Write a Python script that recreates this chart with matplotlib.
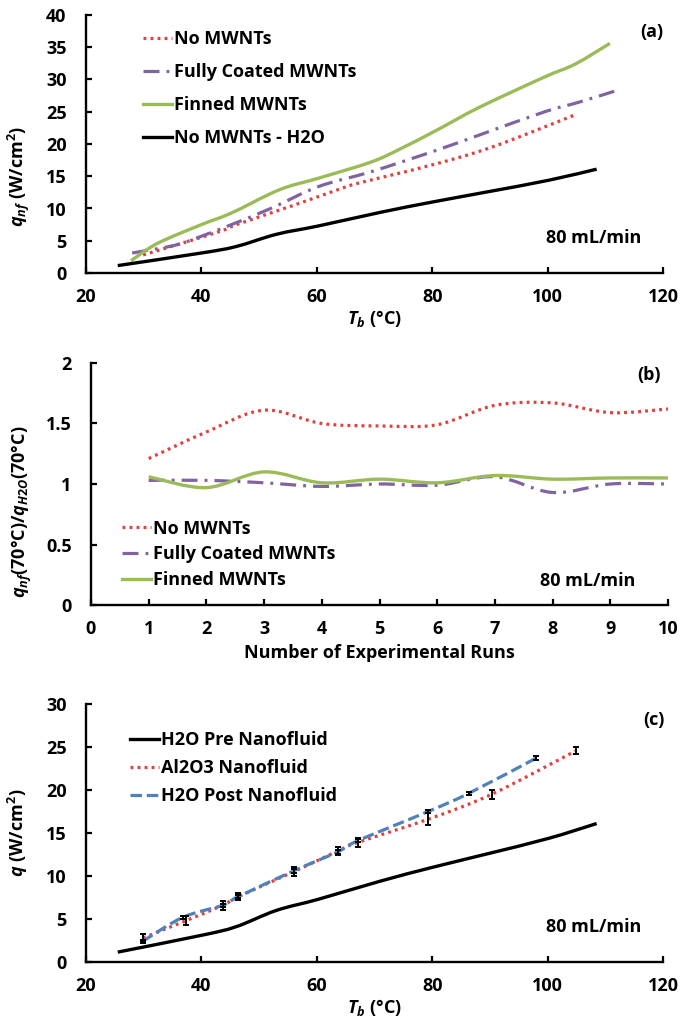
import numpy as np
import matplotlib
matplotlib.use('Agg')
import matplotlib.pyplot as plt
from matplotlib.path import Path
from matplotlib.patches import PathPatch
from matplotlib.lines import Line2D
from matplotlib.ticker import FuncFormatter

FONT = 'Open Sans'
plt.rcParams['font.family'] = [FONT, 'DejaVu Sans']
plt.rcParams['font.weight'] = 'bold'
plt.rcParams['axes.labelweight'] = 'bold'
plt.rcParams['mathtext.fontset'] = 'custom'
plt.rcParams['mathtext.rm'] = FONT + ':bold'
plt.rcParams['mathtext.it'] = FONT + ':italic:bold'
plt.rcParams['mathtext.bf'] = FONT + ':bold'

# ---- data ----
# panel (a)
h2o_x = [25.5, 40, 46, 53, 60.3, 71, 80, 89.7, 100.3, 108.5]
h2o_y = [1.15, 3.1, 4.1, 6.0, 7.3, 9.4, 11.0, 12.6, 14.4, 16.1]
al_x = [29.9, 37.3, 43.7, 46.4, 56.0, 63.6, 67.1, 79.3, 90.3, 105.0]
al_y = [2.8, 4.8, 6.6, 7.6, 10.5, 12.9, 13.9, 16.6, 19.5, 24.6]
al_err = [0.4, 0.5, 0.5, 0.4, 0.5, 0.5, 0.5, 0.7, 0.5, 0.4]
coat_x = [28.0, 35.4, 40, 45.2, 52, 60.3, 69.4, 80, 88.2, 99.5, 105.5, 112.7]
coat_y = [3.1, 4.3, 5.7, 7.5, 10.0, 13.4, 15.7, 18.8, 21.4, 25.0, 26.5, 28.5]
fin_x = [27.8, 32.4, 40, 45.2, 53.5, 60.3, 69.4, 74.6, 80.7, 88.2, 99.5, 104.8, 110.8]
fin_y = [1.9, 4.6, 7.5, 9.3, 12.9, 14.7, 17.2, 19.3, 22.1, 25.7, 30.4, 32.4, 35.6]
# panel (b)
runs = [1, 2, 3, 4, 5, 6, 7, 8, 9, 10]
ratio_nomwnt = [1.21, 1.43, 1.61, 1.50, 1.48, 1.49, 1.65, 1.67, 1.59, 1.62]
ratio_coat = [1.03, 1.03, 1.01, 0.98, 1.00, 0.99, 1.06, 0.93, 1.00, 1.00]
ratio_fin = [1.06, 0.97, 1.10, 1.01, 1.04, 1.01, 1.07, 1.04, 1.05, 1.05]
# panel (c)
post_x = [29.8, 36.8, 43.7, 46.4, 56.0, 63.6, 67.1, 79.3, 86.3, 98.0]
post_y = [2.4, 5.2, 6.6, 7.6, 10.6, 12.8, 14.1, 17.5, 19.6, 23.7]
post_err = [0.2, 0.2, 0.2, 0.2, 0.2, 0.2, 0.2, 0.2, 0.2, 0.2]

RED = '#E0413C'
PURPLE = '#8064A2'
GREEN = '#9BBB59'
BLUE = '#4F81BD'

styles = {
    'red': dict(color=RED, lw=2.3, ls=(0, (0.9, 1.3))),
    'purple': dict(color=PURPLE, lw=2.3, ls=(0, (5.0, 2.2, 0.9, 2.2))),
    'green': dict(color=GREEN, lw=2.4, ls='-'),
    'black': dict(color='black', lw=2.4, ls='-'),
    'blue': dict(color=BLUE, lw=2.3, ls=(0, (3.6, 1.5))),
}


def smooth(ax, x, y, st):
    # excel-like smoothed line through the data points (cubic bezier)
    p = np.column_stack([x, y]).astype(float)
    ext = np.vstack([p[0], p, p[-1]])
    verts = [p[0]]
    codes = [Path.MOVETO]
    for i in range(len(p) - 1):
        a, b, c, d = ext[i], ext[i + 1], ext[i + 2], ext[i + 3]
        verts += [b + (c - a) / 6, c - (d - b) / 6, c]
        codes += [Path.CURVE4] * 3
    ax.add_patch(PathPatch(Path(verts, codes), fill=False, edgecolor=st['color'],
                           lw=st['lw'], linestyle=st['ls'], capstyle='butt'))


def handle(st, label):
    return Line2D([], [], color=st['color'], lw=st['lw'], linestyle=st['ls'], label=label)


def style_axes(ax):
    for s in ['top', 'right']:
        ax.spines[s].set_visible(False)
    for s in ['left', 'bottom']:
        ax.spines[s].set_linewidth(1.7)
    ax.tick_params(direction='in', length=4, width=1.6, labelsize=13)
    ax.tick_params(axis='x', pad=11)
    ax.tick_params(axis='y', pad=14)


fig = plt.figure(figsize=(6.83, 10.21), dpi=100)
W, H = 683, 1021


def box(l, t, r, b):
    return [l / W, 1 - b / H, (r - l) / W, (b - t) / H]


LEG = dict(loc='upper left', frameon=False, fontsize=13, borderpad=0, borderaxespad=0,
           handlelength=1.6, handletextpad=0.12)

# ---------- (a) ----------
ax1 = fig.add_axes(box(86, 15, 663, 273))
smooth(ax1, al_x, al_y, styles['red'])
smooth(ax1, coat_x, coat_y, styles['purple'])
smooth(ax1, fin_x, fin_y, styles['green'])
smooth(ax1, h2o_x, h2o_y, styles['black'])
ax1.set_xlim(20, 120)
ax1.set_ylim(0, 40)
ax1.set_xticks(range(20, 121, 20))
ax1.set_yticks(range(0, 41, 5))
style_axes(ax1)
ax1.set_xlabel(r'$T_b$ (°C)', fontsize=13, labelpad=1)
ax1.set_ylabel(r'$q_{nf}$ (W/cm$^2$)', fontsize=13)
ax1.yaxis.set_label_coords(-0.094, 0.376)
ax1.text(1.0, 0.934, '(a)', transform=ax1.transAxes, ha='right', va='center', fontsize=13)
ax1.text(0.962, 0.136, '80 mL/min', transform=ax1.transAxes, ha='right', va='center', fontsize=13)
ax1.legend(handles=[handle(styles['red'], 'No MWNTs'),
                    handle(styles['purple'], 'Fully Coated MWNTs'),
                    handle(styles['green'], 'Finned MWNTs'),
                    handle(styles['black'], 'No MWNTs - H2O')],
           bbox_to_anchor=(0.099, 0.942), labelspacing=0.84, **LEG)

# ---------- (b) ----------
ax2 = fig.add_axes(box(91, 363, 668, 605))
smooth(ax2, runs, ratio_nomwnt, styles['red'])
smooth(ax2, runs, ratio_coat, styles['purple'])
smooth(ax2, runs, ratio_fin, styles['green'])
ax2.set_xlim(0, 10)
ax2.set_ylim(0, 2)
ax2.set_xticks(range(0, 11))
ax2.set_yticks([0, 0.5, 1, 1.5, 2])
ax2.yaxis.set_major_formatter(FuncFormatter(lambda v, p: '%g' % v))
style_axes(ax2)
ax2.set_xlabel('Number of Experimental Runs', fontsize=13, labelpad=4)
ax2.set_ylabel(r'$q_{nf}$(70°C)/$q_{H2O}$(70°C)', fontsize=13)
ax2.yaxis.set_label_coords(-0.099, 0.384)
ax2.text(0.988, 0.95, '(b)', transform=ax2.transAxes, ha='right', va='center', fontsize=13)
ax2.text(0.943, 0.099, '80 mL/min', transform=ax2.transAxes, ha='right', va='center', fontsize=13)
ax2.legend(handles=[handle(styles['red'], 'No MWNTs'),
                    handle(styles['purple'], 'Fully Coated MWNTs'),
                    handle(styles['green'], 'Finned MWNTs')],
           bbox_to_anchor=(0.054, 0.352), labelspacing=0.42, **LEG)

# ---------- (c) ----------
ax3 = fig.add_axes(box(86, 704, 663, 962))
smooth(ax3, h2o_x, h2o_y, styles['black'])
smooth(ax3, al_x, al_y, styles['red'])
smooth(ax3, post_x, post_y, styles['blue'])
ax3.errorbar(al_x, al_y, yerr=al_err, fmt='none', ecolor='black', elinewidth=1.4,
             capsize=2, capthick=1.4)
ax3.errorbar(post_x, post_y, yerr=post_err, fmt='none', ecolor='black', elinewidth=1.4,
             capsize=2, capthick=1.4)
ax3.set_xlim(20, 120)
ax3.set_ylim(0, 30)
ax3.set_xticks(range(20, 121, 20))
ax3.set_yticks(range(0, 31, 5))
style_axes(ax3)
ax3.set_xlabel(r'$T_b$ (°C)', fontsize=13, labelpad=1)
ax3.set_ylabel(r'$q$ (W/cm$^2$)', fontsize=13)
ax3.yaxis.set_label_coords(-0.097, 0.5)
ax3.text(1.003, 0.938, '(c)', transform=ax3.transAxes, ha='right', va='center', fontsize=13)
ax3.text(0.962, 0.136, '80 mL/min', transform=ax3.transAxes, ha='right', va='center', fontsize=13)
ax3.legend(handles=[handle(styles['black'], 'H2O Pre Nanofluid'),
                    handle(styles['red'], 'Al2O3 Nanofluid'),
                    handle(styles['blue'], 'H2O Post Nanofluid')],
           bbox_to_anchor=(0.076, 0.895), labelspacing=0.55, **LEG)

fig.savefig('out.png', dpi=100)
